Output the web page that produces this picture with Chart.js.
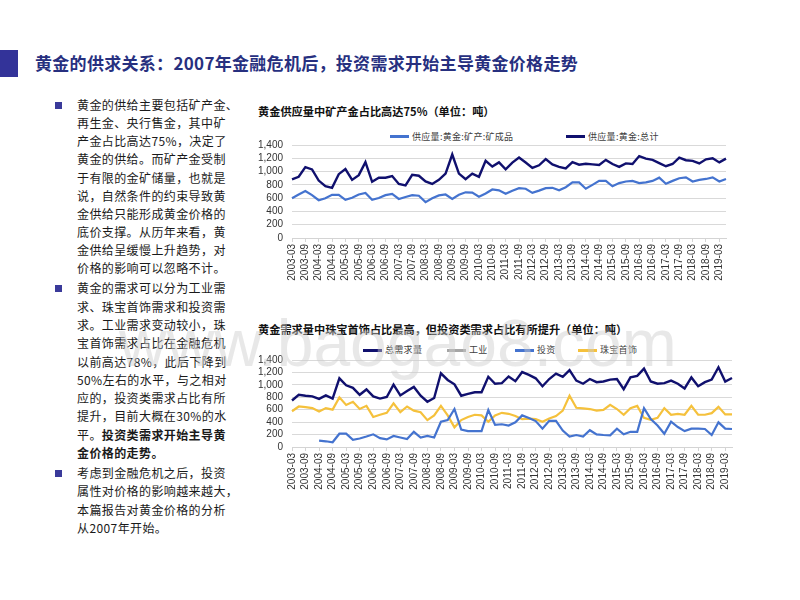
<!DOCTYPE html>
<html><head><meta charset="utf-8">
<script src="https://cdn.jsdelivr.net/npm/chart.js@4.4.1/dist/chart.umd.min.js"></script>
<style>
html,body{margin:0;padding:0;background:#fff;width:800px;height:600px;overflow:hidden;font-family:"Noto Sans CJK SC","Noto Sans",sans-serif;}
.abs{position:absolute;white-space:nowrap;}
#sq{left:0;top:50px;width:18px;height:27px;background:#333399;}
#title{left:35px;top:51px;font-size:17px;font-weight:bold;color:#27307f;line-height:24px;letter-spacing:0.3px;}
.ln{left:77px;font-size:12px;line-height:14px;color:#1a1a1a;letter-spacing:0.4px;}
.bul{left:55px;width:7px;height:7px;background:#3a3a9a;}
.ctitle{left:258px;font-size:11.2px;font-weight:bold;color:#111;line-height:14px;}
.lgline{height:3px;}
.lgtxt{font-size:9px;color:#404040;line-height:12px;letter-spacing:0.3px;}
canvas{position:absolute;}
#wm{left:119px;top:303px;font-family:"Liberation Sans",Arial,sans-serif;font-size:66px;line-height:80px;color:rgba(205,205,205,0.45);pointer-events:none;}
</style>
</head><body>
<div id="sq" class="abs"></div>
<div id="title" class="abs">黄金的供求关系：2007年金融危机后，投资需求开始主导黄金价格走势</div>
<div id="textbox"></div>

<div class="abs ctitle" style="top:104px;">黄金供应量中矿产金占比高达75%（单位：吨）</div>
<div class="abs ctitle" style="top:322px;">黄金需求量中珠宝首饰占比最高，但投资类需求占比有所提升（单位：吨）</div>
<div id="legends"></div>

<canvas id="c1" width="490" height="153" style="left:250px;top:130px;width:490px;height:153px;"></canvas>
<canvas id="c2" width="496" height="147" style="left:250px;top:345px;width:496px;height:147px;"></canvas>
<div id="wm" class="abs">www.baogao8.com</div>

<script>
// ---------- DATA ----------
const quarters = [
 "2003-03","2003-06","2003-09","2003-12","2004-03","2004-06","2004-09","2004-12",
 "2005-03","2005-06","2005-09","2005-12","2006-03","2006-06","2006-09","2006-12",
 "2007-03","2007-06","2007-09","2007-12","2008-03","2008-06","2008-09","2008-12",
 "2009-03","2009-06","2009-09","2009-12","2010-03","2010-06","2010-09","2010-12",
 "2011-03","2011-06","2011-09","2011-12","2012-03","2012-06","2012-09","2012-12",
 "2013-03","2013-06","2013-09","2013-12","2014-03","2014-06","2014-09","2014-12",
 "2015-03","2015-06","2015-09","2015-12","2016-03","2016-06","2016-09","2016-12",
 "2017-03","2017-06","2017-09","2017-12","2018-03","2018-06","2018-09","2018-12",
 "2019-03","2019-06"];

// Chart 1: supply
const supplyMine = [598,655,707,645,569,598,650,650,574,607,
 655,679,574,602,645,664,588,617,645,636,
 540,598,641,655,588,650,688,684,621,669,
 731,717,665,712,751,742,680,713,751,756,
 718,765,836,836,742,800,860,860,779,827,
 851,860,827,837,860,908,817,860,899,913,
 851,875,889,913,851,889];
const supplyTotal = [884,922,1066,1032,865,779,755,961,1037,875,
 946,1142,846,908,908,932,813,793,951,937,
 851,813,875,970,1257,970,884,970,922,1162,
 1075,1138,1035,1135,1212,1136,1056,1094,1188,1108,
 1070,1047,1141,1103,1118,1108,1099,1176,1114,1071,
 1123,1114,1233,1195,1176,1128,1080,1114,1209,1171,
 1162,1123,1185,1200,1138,1195];

// Chart 2: demand
const demandTotal = [748,840,825,814,774,830,779,1105,993,952,
 840,926,814,779,804,1003,830,901,967,825,
 728,789,1186,1079,1008,825,855,881,881,1130,
 1018,1028,1135,1059,1206,1161,1105,977,1094,1181,
 1130,1237,1069,1018,1094,1043,1054,1084,1094,931,
 1120,1145,1262,1054,1018,1028,1069,1018,942,1120,
 977,1043,1084,1283,1054,1110];
const demandIndustry = [];
const demandInvest = [null,null,null,null,102,92,76,214,214,117,
 137,168,204,143,122,178,153,127,244,153,
 178,153,407,433,611,280,255,255,255,596,
 356,366,346,397,509,468,417,295,422,422,
 265,168,193,168,270,204,193,188,295,204,
 244,244,626,448,346,214,407,321,255,295,
 295,290,193,397,295,290];
const demandJewelry = [575,652,641,626,570,626,601,799,677,728,
 611,662,484,519,550,702,560,652,585,560,
 433,509,662,509,316,433,484,519,509,407,
 509,550,534,499,448,458,448,407,458,499,
 585,825,631,621,611,585,596,677,611,519,
 626,662,468,438,468,626,519,534,519,662,
 519,519,545,646,524,524];

const yTicks = [0,200,400,600,800,1000,1200,1400];

// ---------- TEXT ----------
const para1 = ["黄金的供给主要包括矿产金、","再生金、央行售金，其中矿","产金占比高达75%，决定了","黄金的供给。而矿产金受制",
 "于有限的金矿储量，也就是","说，自然条件的约束导致黄","金供给只能形成黄金价格的","底价支撑。从历年来看，黄",
 "金供给呈缓慢上升趋势，对","价格的影响可以忽略不计。"];
const para2 = ["黄金的需求可以分为工业需","求、珠宝首饰需求和投资需","求。工业需求变动较小，珠","宝首饰需求占比在金融危机",
 "以前高达78%，此后下降到","50%左右的水平，与之相对","应的，投资类需求占比有所","提升，目前大概在30%的水",
 "平。<b>投资类需求开始主导黄</b>","<b>金价格的走势。</b>"];
const para3 = ["考虑到金融危机之后，投资","属性对价格的影响越来越大，","本篇报告对黄金价格的分析","从2007年开始。"];

const tb = document.getElementById('textbox');
function addPara(lines, y0, step) {
  const b = document.createElement('div');
  b.className = 'abs bul'; b.style.top = (y0 - 3.5) + 'px'; tb.appendChild(b);
  lines.forEach((t, k) => {
    const d = document.createElement('div');
    d.className = 'abs ln'; d.style.top = (y0 + k * step - 7) + 'px';
    d.innerHTML = t; tb.appendChild(d);
  });
}
addPara(para1, 105, 18.15);
addPara(para2, 288.3, 18.3);
addPara(para3, 473.3, 18.1);

// ---------- COLORS ----------
const cNavy = '#10106e', cBlue = '#4473cf', cGold = '#f5c13c', cGray = '#a5a5a5';

// legends (HTML)
const lg = document.getElementById('legends');
function addLegend(x, y, color, text) {
  const l = document.createElement('div');
  l.className = 'abs lgline'; l.style.left = x + 'px'; l.style.top = (y - 1.5) + 'px';
  l.style.width = '19px'; l.style.background = color; lg.appendChild(l);
  const t = document.createElement('div');
  t.className = 'abs lgtxt'; t.style.left = (x + 22) + 'px'; t.style.top = (y - 6) + 'px';
  t.textContent = text; lg.appendChild(t);
}
addLegend(390, 136.5, cBlue, '供应量:黄金:矿产:矿成品');
addLegend(566, 136.5, cNavy, '供应量:黄金:总计');
addLegend(363, 350, cNavy, '总需求量');
addLegend(447, 350, cGray, '工业');
addLegend(515, 350, cBlue, '投资');
addLegend(578, 350, cGold, '珠宝首饰');

// ---------- CHARTS ----------
function makeChart(id, datasets, yw, padTop, padRight, xh) {
  return new Chart(document.getElementById(id), {
    type: 'line',
    data: { labels: quarters, datasets: datasets },
    options: {
      responsive: false, animation: false, maintainAspectRatio: false,
      layout: { padding: { top: padTop, right: padRight, left: 0, bottom: 0 } },
      plugins: { legend: { display: false }, tooltip: { enabled: false } },
      elements: { point: { radius: 0 }, line: { borderWidth: 2.2, tension: 0 } },
      scales: {
        x: {
          grid: { drawOnChartArea: false, drawTicks: true, tickLength: 4,
                  color: (c) => (c.index % 2 === 0 ? '#d4d4d4' : 'rgba(0,0,0,0)') },
          border: { color: '#d4d4d4', width: 1 },
          ticks: { autoSkip: false, maxRotation: 90, minRotation: 90, padding: 2,
                   font: { size: 10, family: 'Liberation Sans' }, color: '#333',
                   callback: (v, i) => (i % 2 === 0 ? quarters[i] : '') },
          afterFit: (s) => { s.height = xh; }
        },
        y: {
          min: 0, max: 1400,
          afterBuildTicks: (s) => { s.ticks = yTicks.map(v => ({ value: v })); },
          grid: { color: '#d9d9d9', drawTicks: false },
          border: { display: false },
          ticks: { autoSkip: false, padding: 9, font: { size: 10, family: 'Liberation Sans' }, color: '#333',
                   callback: (v) => v.toLocaleString('en-US') },
          afterFit: (s) => { s.width = yw; }
        }
      }
    }
  });
}

makeChart('c1', [
  { label: '供应量:黄金:矿产:矿成品', data: supplyMine, borderColor: cBlue, borderWidth: 2.2 },
  { label: '供应量:黄金:总计', data: supplyTotal, borderColor: cNavy, borderWidth: 2.4 }
], 42, 10, 6, 45);

makeChart('c2', [
  { label: '总需求量', data: demandTotal, borderColor: cNavy, borderWidth: 2.4 },
  { label: '工业', data: demandIndustry, borderColor: cGray },
  { label: '投资', data: demandInvest, borderColor: cBlue, spanGaps: false },
  { label: '珠宝首饰', data: demandJewelry, borderColor: cGold }
], 42, 10, 6, 45);
</script>
</body></html>
